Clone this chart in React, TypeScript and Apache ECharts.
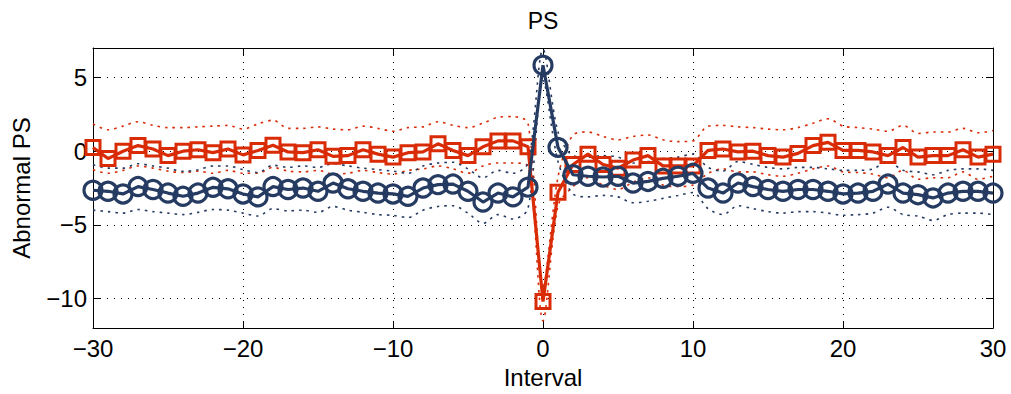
import React, { useEffect, useRef } from "react";
import * as echarts from "echarts";

const intervals = [
  -30, -29, -28, -27, -26, -25, -24, -23, -22, -21, -20, -19, -18, -17, -16, -15, -14, -13, -12, -11,
  -10, -9, -8, -7, -6, -5, -4, -3, -2, -1, 0, 1, 2, 3, 4, 5, 6, 7, 8, 9, 10, 11, 12, 13, 14, 15, 16,
  17, 18, 19, 20, 21, 22, 23, 24, 25, 26, 27, 28, 29, 30,
];

const redValues = [
  0.25, -0.5, 0.0, 0.38, 0.15, -0.3, 0.0, 0.1, -0.1, 0.15, -0.25,
  0.05, 0.4, -0.05, -0.1, 0.1, -0.35, -0.3, 0.1, -0.2, -0.4,
  -0.1, -0.05, 0.5, 0.05, -0.3, 0.3, 0.7, 0.7, 0.3,
  -10.2, -2.78,
  -0.9, -0.2, -0.9, -1.15, -0.6, -0.3, -1.0, -1.0, -1.0,
  0.05, 0.15, -0.05, 0.0, -0.3, -0.4, -0.15, 0.38, 0.6, 0.05,
  0.05, -0.05, -0.3, 0.25, -0.4, -0.3, -0.3, 0.1, -0.4, -0.2,
];

const blueValues = [
  -2.65, -2.72, -2.9, -2.4, -2.6, -2.84, -3.06, -2.84, -2.45, -2.55, -2.9,
  -3.1, -2.4, -2.6, -2.5, -2.72, -2.16, -2.55, -2.72, -2.84, -2.9,
  -3.06, -2.5, -2.27, -2.23, -2.72, -3.45, -2.84, -3.1, -2.44,
  5.83, 0.26,
  -1.6, -1.7, -1.75, -1.7, -2.16, -2.05, -1.84, -1.7, -1.5,
  -2.5, -2.84, -2.16, -2.4, -2.6, -2.72, -2.6, -2.6, -2.72, -2.9,
  -2.84, -2.72, -2.23, -2.84, -2.95, -3.17, -2.84, -2.72, -2.72, -2.84,
];

const redUpper = [
  1.85, 1.45, 1.7, 2.0, 1.75, 1.6, 1.6, 1.65, 1.7, 1.75, 1.5,
  1.85, 2.1, 1.55, 1.55, 1.65, 1.5, 1.45, 1.7, 1.55, 1.35,
  1.6, 1.65, 2.0, 1.75, 1.6, 1.9, 2.3, 2.35, 1.9,
  -9.2, -1.75,
  1.1, 1.3, 1.0, 0.77, 1.0, 1.1, 0.77, 0.65, 0.7,
  1.7, 1.75, 1.65, 1.6, 1.5, 1.45, 1.6, 1.9, 2.2, 1.7,
  1.6, 1.5, 1.35, 1.75, 1.2, 1.3, 1.3, 1.55, 1.25, 1.4,
];

const redLower = [
  -1.26, -1.5, -1.3, -1.0, -1.15, -1.35, -1.45, -1.35, -1.5, -1.3, -1.5,
  -1.5, -1.1, -1.35, -1.4, -1.3, -1.55, -1.5, -1.3, -1.45, -1.55,
  -1.3, -1.2, -1.0, -1.2, -1.5, -1.0, -0.8, -0.8, -1.0,
  -11.5, -3.7,
  -2.4, -1.8, -2.3, -2.6, -2.1, -1.8, -2.3, -2.4, -2.3,
  -1.5, -1.2, -1.4, -1.4, -1.6, -1.7, -1.5, -1.2, -1.0, -1.4,
  -1.45, -1.55, -1.8, -1.3, -1.9, -1.8, -1.8, -1.4, -1.9, -1.7,
];

const blueUpper = [
  -0.92, -1.15, -1.15, -0.85, -1.0, -1.15, -1.37, -1.26, -1.0, -1.0, -1.25,
  -1.45, -0.95, -1.1, -1.0, -1.1, -0.85, -1.0, -1.15, -1.25, -1.35,
  -1.5, -1.0, -0.8, -0.75, -1.2, -1.8, -1.3, -1.5, -0.8,
  6.9, 1.3,
  -0.3, -0.4, -0.3, -0.4, -0.8, -0.7, -0.5, -0.4, -0.2,
  -1.1, -1.35, -0.7, -0.9, -1.1, -1.2, -1.1, -1.1, -1.2, -1.3,
  -1.3, -1.2, -0.7, -1.3, -1.4, -1.6, -1.3, -1.2, -1.2, -1.3,
];

const blueLower = [
  -4.0, -4.1, -4.2, -3.96, -4.1, -4.2, -4.3, -4.15, -3.96, -4.0, -4.2,
  -4.4, -3.9, -4.05, -4.0, -4.15, -3.75, -4.0, -4.15, -4.3, -4.35,
  -4.5, -4.0, -3.75, -3.7, -4.2, -4.9, -4.3, -4.6, -3.9,
  4.8, -0.7,
  -2.9, -3.1, -3.0, -3.1, -3.5, -3.4, -3.2, -3.0, -2.8,
  -3.9, -4.3, -3.7, -3.9, -4.1, -4.2, -4.1, -4.1, -4.2, -4.35,
  -4.3, -4.2, -3.8, -4.3, -4.4, -4.7, -4.3, -4.2, -4.2, -4.3,
];

const xTicks = [-30, -20, -10, 0, 10, 20, 30];
const yTicks = [-10, -5, 0, 5];

const RED = "#d92b06";
const BLUE = "#263b62";
const FONT = "Liberation Sans, Arial, Helvetica, sans-serif";

const pairs = (arr: number[]) => intervals.map((x, i) => [x, arr[i]]);
const fmt = (v: number) => String(v).replace("-", "\u2212");

export default function App() {
  const ref = useRef<HTMLDivElement>(null);
  useEffect(() => {
    if (!ref.current) return;
    const chart = echarts.init(ref.current, null, { renderer: "svg" });
    const axisLineStyle = { color: "#000", width: 1 };
    const gridLine = { show: true, lineStyle: { color: "#000", width: 1, type: [1, 6] as any } };
    const band = (data: number[], color: string) => ({
      type: "line",
      data: pairs(data),
      symbol: "none",
      showSymbol: false,
      smooth: 0.3,
      lineStyle: { color, width: 1.6, type: [2.5, 5] },
      silent: true,
      z: 2,
    });
    chart.setOption({
      animation: false,
      graphic: [
        {
          type: "text",
          x: 543,
          y: 21,
          style: {
            text: "PS",
            fontFamily: FONT,
            fontSize: 23,
            fill: "#000",
            align: "center",
            verticalAlign: "middle",
          },
        },
      ],
      grid: { left: 93, right: 18, top: 48, bottom: 64 },
      xAxis: [
        {
          type: "value",
          min: -30,
          max: 30,
          interval: 10,
          position: "bottom",
          axisLine: { show: true, onZero: false, lineStyle: axisLineStyle },
          axisTick: { show: true, inside: true, length: 7, lineStyle: axisLineStyle, customValues: xTicks },
          axisLabel: {
            show: true,
            fontFamily: FONT,
            fontSize: 24,
            color: "#000",
            margin: 8,
            customValues: xTicks,
            formatter: (v: number) => fmt(v),
          },
          splitLine: gridLine,
          name: "Interval",
          nameLocation: "middle",
          nameGap: 34,
          nameTextStyle: { fontFamily: FONT, fontSize: 24, color: "#000" },
        },
        {
          type: "value",
          min: -30,
          max: 30,
          interval: 10,
          position: "top",
          axisLine: { show: true, onZero: false, lineStyle: axisLineStyle },
          axisTick: { show: true, inside: true, length: 7, lineStyle: axisLineStyle },
          axisLabel: { show: false },
          splitLine: { show: false },
        },
      ],
      yAxis: [
        {
          type: "value",
          min: -12,
          max: 7,
          position: "left",
          axisLine: { show: true, onZero: false, lineStyle: axisLineStyle },
          axisTick: { show: true, inside: true, length: 7, lineStyle: axisLineStyle, customValues: yTicks },
          axisLabel: {
            show: true,
            fontFamily: FONT,
            fontSize: 24,
            color: "#000",
            margin: 6,
            customValues: yTicks,
            formatter: (v: number) => fmt(v),
          },
          splitLine: gridLine,
          name: "Abnormal PS",
          nameLocation: "middle",
          nameGap: 60,
          nameTextStyle: { fontFamily: FONT, fontSize: 24, color: "#000" },
        },
        {
          type: "value",
          min: -12,
          max: 7,
          position: "right",
          axisLine: { show: true, onZero: false, lineStyle: axisLineStyle },
          axisTick: { show: true, inside: true, length: 7, lineStyle: axisLineStyle, customValues: yTicks },
          axisLabel: { show: false, customValues: yTicks },
          splitLine: { show: false },
        },
      ],
      series: [
        band(redUpper, RED),
        band(redLower, RED),
        band(blueUpper, BLUE),
        band(blueLower, BLUE),
        {
          type: "line",
          data: pairs(redValues),
          symbol: "rect",
          symbolSize: 14,
          itemStyle: { color: "rgba(0,0,0,0)", borderColor: RED, borderWidth: 3 },
          lineStyle: { color: RED, width: 3.2 },
          emphasis: { disabled: true },
          z: 3,
        },
        {
          type: "line",
          data: pairs(blueValues),
          symbol: "circle",
          symbolSize: 18,
          itemStyle: { color: "rgba(0,0,0,0)", borderColor: BLUE, borderWidth: 3.2 },
          lineStyle: { color: BLUE, width: 3.2 },
          emphasis: { disabled: true },
          z: 4,
        },
      ],
    });
    return () => chart.dispose();
  }, []);
  return (
    <div
      ref={ref}
      style={{ position: "absolute", left: 0, top: 0, width: 1011, height: 394, background: "#fff" }}
    />
  );
}
